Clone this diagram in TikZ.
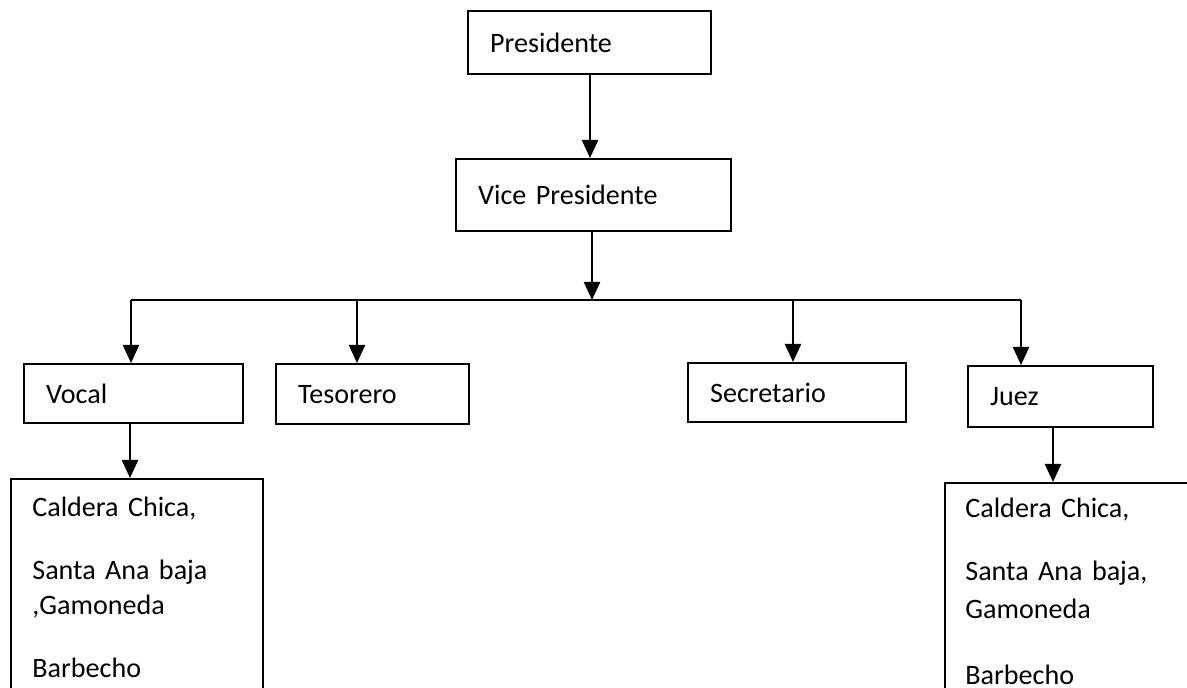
\documentclass[tikz,border=0pt]{standalone}
\usepackage{fontspec}
\setmainfont{Carlito}
\usetikzlibrary{arrows.meta,positioning,calc}
\tikzset{
  box/.style={draw=black,line width=1.3pt,anchor=north west,inner xsep=0.44cm,
    inner ysep=0pt,align=left,font=\fontsize{16}{19.9}\selectfont},
  zone/.style={draw=black,line width=1.3pt,anchor=north west,inner sep=0pt},
  zonetext/.style={anchor=base west,inner sep=0pt,align=left,text width=4.6cm,
    font=\fontsize{16}{19.9}\selectfont},
  arrow/.style={-{Triangle[length=0.36cm,width=0.32cm]},line width=1.3pt},
  bus/.style={line width=1.3pt}
}

\begin{document}
\begin{tikzpicture}[x=0.02cm,y=-0.02cm]
      \clip (0,0) rectangle (1187,688);
      \node[box,minimum width=4.86cm,minimum height=1.26cm,text width=3.98cm] (pres) at (467,10) {Presidente};
      \node[box,minimum width=5.50cm,minimum height=1.44cm,text width=4.62cm] (vice) at (455,158) {Vice Presidente};
      \node[box,minimum width=4.38cm,minimum height=1.18cm,text width=3.50cm] (vocal) at (23,363) {Vocal};
      \node[box,minimum width=3.86cm,minimum height=1.20cm,text width=2.98cm] (teso) at (275,363) {Tesorero};
      \node[box,minimum width=4.36cm,minimum height=1.18cm,text width=3.48cm] (secre) at (687,362) {Secretario};
      \node[box,minimum width=3.70cm,minimum height=1.22cm,text width=2.82cm] (juez) at (967,365) {Juez};
      \node[zone,minimum width=5.04cm,minimum height=4.8cm] (vzonas) at (10,478) {};
      \node[zone,minimum width=5.20cm,minimum height=4.8cm] (jzonas) at (944,482) {};
      \node[zonetext] (vzonastxt) at (32,517)
        {Caldera Chica,\\[0.56cm]Santa Ana baja\\,Gamoneda\\[0.56cm]Barbecho};
      \node[zonetext] (jzonastxt) at (965,518)
        {Caldera Chica,\\[0.56cm]Santa Ana baja,\\[0.06cm]Gamoneda\\[0.62cm]Barbecho};
      \coordinate (busL) at (131,300);
      \coordinate (busR) at (1021,300);
      \coordinate (busM) at (592,300);
      \coordinate (dT) at (357,300);
      \coordinate (dS) at (793,300);
      \coordinate (jdrop) at (1053,0);
      \draw[arrow] (590,0 |- pres.south) -- (590,0 |- vice.north);
      \draw[arrow] (vice.south -| busM) -- (busM);
      \draw[bus] (busL) -- (busR);
      \draw[arrow] (busL) -- (busL |- vocal.north);
      \draw[arrow] (dT) -- (dT |- teso.north);
      \draw[arrow] (dS) -- (dS |- secre.north);
      \draw[arrow] (busR) -- (busR |- juez.north);
      \draw[arrow] (130,0 |- vocal.south) -- (130,0 |- vzonas.north);
      \draw[arrow] (jdrop |- juez.south) -- (jdrop |- jzonas.north);
    \end{tikzpicture}
\end{document}
